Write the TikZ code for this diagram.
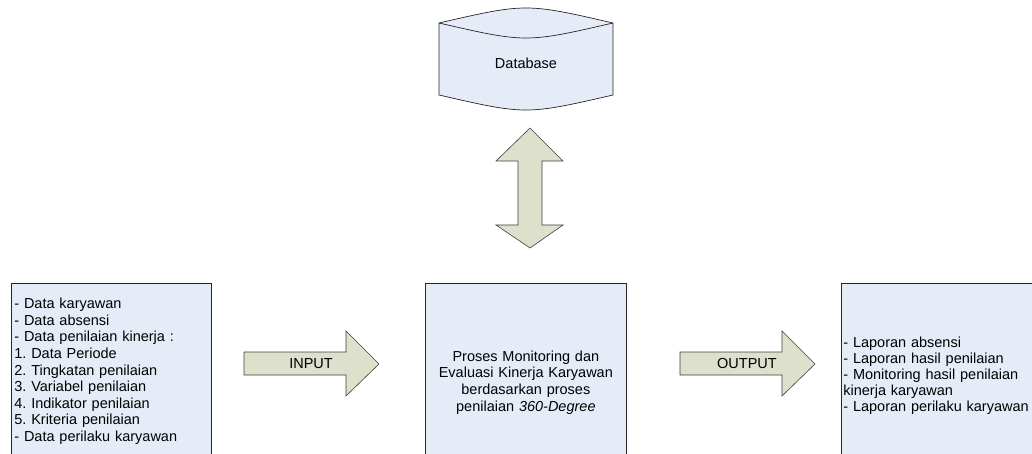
\documentclass[tikz,border=0pt]{standalone}
\usepackage{fontspec}
\setmainfont{Liberation Sans}
\frenchspacing
\begin{document}
\begin{tikzpicture}[x=1pt,y=-1pt,
  box/.style={draw=black!85, line width=0.7pt, fill=boxblue, anchor=north west,
    font=\fontsize{14.5}{16.6}\selectfont},
  blockarrow/.style={draw=black!75, line width=0.6pt, fill=arrowgreen},
  lbl/.style={font=\fontsize{14.5}{16.6}\selectfont, inner sep=0pt}]
\definecolor{boxblue}{HTML}{E6ECF7}
\definecolor{arrowgreen}{HTML}{DDE0CB}
\useasboundingbox (0,0) rectangle (1032,454);
\clip (0,0) rectangle (1032,454);

% process boxes
\node[box, minimum width=200pt, minimum height=176pt, text width=194pt,
      inner xsep=3pt, align=left] (inbox) at (11,283)
  {- Data karyawan\\- Data absensi\\- Data penilaian kinerja :\\1. Data Periode\\2. Tingkatan penilaian\\3. Variabel penilaian\\4. Indikator penilaian\\5. Kriteria penilaian\\- Data perilaku karyawan};
\node[box, minimum width=201pt, minimum height=198pt, text width=190pt,
      inner xsep=5pt, align=center] (proc) at (425,283)
  {Proses Monitoring dan\\Evaluasi Kinerja Karyawan\\berdasarkan proses\\penilaian \textit{360-Degree}};
\node[box, minimum width=204pt, minimum height=184pt, text width=200pt,
      inner xsep=2pt, align=left, font=\fontsize{14.5}{16}\selectfont] (outbox) at (841,283)
  {- Laporan absensi\\- Laporan hasil penilaian\\- Monitoring hasil penilaian\\kinerja karyawan\\- Laporan perilaku karyawan};

% database cylinder
\filldraw[draw=black!85, line width=0.7pt, fill=boxblue]
  (439,23) .. controls (526,3) .. (613,23) -- (613,95)
  .. controls (526,115) .. (439,95) -- cycle;
\draw[black!85, line width=0.7pt] (439,23) .. controls (526,43) .. (613,23);
\node[lbl] (db) at (526,63) {Database};

% double arrow between database and process
\coordinate (dbtop) at (530,128);
\coordinate (dbbot) at (530,248);
\filldraw[blockarrow] (dbtop) -- (563,161) -- (542,161) -- (542,225) -- (563,225)
  -- (dbbot) -- (496,225) -- (518,225) -- (518,161) -- (496,161) -- cycle;

% input arrow
\filldraw[blockarrow] (244,352) -- (346,352) -- (346,331) -- (379,364)
  -- (346,396) -- (346,375) -- (244,375) -- cycle;
\node[lbl] (inlbl) at (311,364) {INPUT};

% output arrow
\filldraw[blockarrow] (680,352) -- (782,352) -- (782,331) -- (815,364)
  -- (782,396) -- (782,375) -- (680,375) -- cycle;
\node[lbl] (outlbl) at (747,364) {OUTPUT};
\end{tikzpicture}
\end{document}
